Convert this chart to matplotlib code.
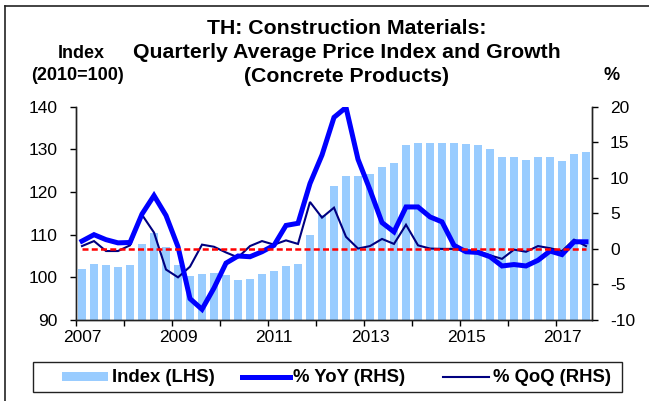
import matplotlib
matplotlib.use('Agg')
import matplotlib.pyplot as plt
from matplotlib.lines import Line2D
from matplotlib.patches import Rectangle

plt.rcParams['font.family'] = ['Liberation Sans', 'DejaVu Sans']

# Quarterly data, 2007Q1 .. 2017Q3
index_vals = [101.9, 103.1, 102.8, 102.4, 102.9, 107.9, 110.3, 107.2, 102.8, 100.3,
              100.8, 101.0, 100.6, 99.3, 99.6, 100.7, 101.4, 102.6, 103.2, 110.0,
              114.7, 121.5, 123.7, 123.7, 124.2, 125.8, 126.7, 131.0, 131.5, 131.5,
              131.5, 131.5, 131.2, 131.0, 130.1, 128.3, 128.1, 127.6, 128.1, 128.1,
              127.2, 128.9, 129.4]
yoy_vals = [1.1, 2.0, 1.3, 0.85, 0.9, 4.9, 7.5, 4.7, 0.3, -7.0,
            -8.5, -5.5, -2.0, -1.0, -1.1, -0.4, 0.5, 3.3, 3.6, 9.2,
            13.2, 18.5, 19.9, 12.6, 8.3, 3.7, 2.4, 5.9, 5.9, 4.5,
            3.8, 0.5, -0.4, -0.5, -1.1, -2.4, -2.2, -2.4, -1.6, -0.3,
            -0.8, 1.0, 1.0]
qoq_vals = [0.4, 1.1, -0.3, -0.3, 0.5, 4.8, 2.3, -2.9, -4.0, -2.5,
            0.6, 0.3, -0.5, -1.2, 0.4, 1.1, 0.6, 1.2, 0.7, 6.6,
            4.4, 5.8, 1.7, 0.05, 0.4, 1.4, 0.7, 3.4, 0.5, 0.05,
            0.0, 0.0, -0.2, -0.3, -0.9, -1.4, -0.1, -0.4, 0.4, 0.1,
            -0.3, 1.3, 0.4]
year_labels = ['2007', '2009', '2011', '2013', '2015', '2017']
left_ticks = [90, 100, 110, 120, 130, 140]
right_ticks = [-10, -5, 0, 5, 10, 15, 20]

W, H = 649, 401
fig = plt.figure(figsize=(W / 100, H / 100), dpi=100)
ax = fig.add_axes([76 / W, 1 - 320 / H, (592 - 76) / W, (320 - 106.7) / H])
ax2 = ax.twinx()

n = len(index_vals)
x = [i + 0.5 for i in range(n)]

ax.bar(x, index_vals, width=0.62, color='#99CCFF', zorder=2)
ax.set_ylim(90, 140)
ax.set_xlim(0, n)
ax.set_yticks(left_ticks)
ax.set_yticklabels([str(t) for t in left_ticks])

ax2.plot(x, qoq_vals, color='#000080', lw=1.5, zorder=3, solid_joinstyle='miter')
ax2.plot(x, yoy_vals, color='#0000FF', lw=3.6, zorder=4, solid_joinstyle='miter')
ax2.hlines(0, x[0], x[-1], colors='#FF0000', lw=1.8, linestyles=(0, (2.4, 1.3)), zorder=5)
ax2.set_ylim(-10, 20)
ax2.set_yticks(right_ticks)
ax2.set_yticklabels([str(t) for t in right_ticks])

# x ticks every year, labels every two years (centered on Q1 bar)
ax.set_xticks(list(range(0, n + 1, 4)))
ax.set_xticklabels([])
ax.set_xticks([i * 8 + 0.5 for i in range(len(year_labels))], minor=True)
ax.set_xticklabels(year_labels, minor=True)
ax.tick_params(axis='x', which='minor', length=0, pad=7, labelsize=12.5)
ax.tick_params(axis='x', which='major', length=4, direction='out', width=1)
ax.tick_params(axis='y', length=4, direction='out', width=1, labelsize=12.5, pad=9)
ax2.tick_params(axis='y', length=4, direction='out', width=1, labelsize=12.5, pad=9)

for a in (ax, ax2):
    a.spines['top'].set_visible(False)
    for s in ('left', 'right', 'bottom'):
        a.spines[s].set_linewidth(1.0)
        a.spines[s].set_color('#222222')
ax.patch.set_visible(False)

# Titles
tf = dict(fontsize=15.3, fontweight='bold', ha='center', va='center')
fig.text(347 / W, 1 - 29 / H, 'TH: Construction Materials:', **tf)
fig.text(347 / W, 1 - 53 / H, 'Quarterly Average Price Index and Growth', **tf)
fig.text(347 / W, 1 - 76 / H, '(Concrete Products)', **tf)
lf = dict(fontsize=13, fontweight='bold', ha='center', va='center')
fig.text(81 / W, 1 - 53 / H, 'Index', **lf)
fig.text(77 / W, 1 - 76 / H, '(2010=100)', **lf)
fig.text(612 / W, 1 - 76 / H, '%', **lf)

# Frame around figure
fig.add_artist(Line2D([5 / W, 1], [1 - 6 / H, 1 - 6 / H], transform=fig.transFigure, color='#222222', lw=1.2))
fig.add_artist(Line2D([5 / W, 5 / W], [0, 1 - 6 / H], transform=fig.transFigure, color='#222222', lw=1.2))

# Legend (manual layout)
fig.add_artist(Rectangle((33 / W, 1 - 392 / H), (622 - 33) / W, 30 / H, transform=fig.transFigure,
                         fill=False, edgecolor='#222222', lw=1.0))
ly = 1 - 377 / H
lt = dict(fontsize=13.3, fontweight='bold', ha='left', va='center')
fig.add_artist(Rectangle((62 / W, 1 - 381 / H), 46 / W, 9.5 / H, transform=fig.transFigure,
                         facecolor='#99CCFF', edgecolor='none'))
fig.text(112 / W, ly, 'Index (LHS)', **lt)
fig.add_artist(Line2D([242 / W, 290 / W], [ly, ly], transform=fig.transFigure, color='#0000FF', lw=3.6))
fig.text(293 / W, ly, '% YoY (RHS)', **lt)
fig.add_artist(Line2D([443 / W, 489 / W], [ly, ly], transform=fig.transFigure, color='#000080', lw=1.5))
fig.text(493 / W, ly, '% QoQ (RHS)', **lt)

fig.savefig('out.png', dpi=100)
